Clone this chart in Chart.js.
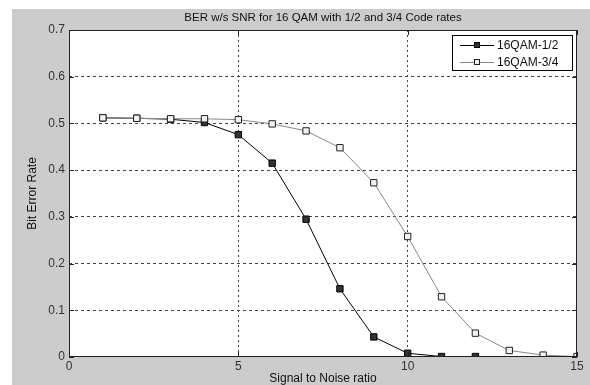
<!DOCTYPE html>
<html>
<head>
<meta charset="utf-8">
<script src="https://cdn.jsdelivr.net/npm/chart.js@4.4.1/dist/chart.umd.min.js"></script>
<style>
html,body{margin:0;padding:0;background:#fff;}
canvas{display:block;}
</style>
</head>
<body>
<canvas id="c" width="590" height="385"></canvas>
<script>
const snr = [1,2,3,4,5,6,7,8,9,10,11,12,13,14,15];
const ber12 = [0.512,0.511,0.509,0.502,0.476,0.415,0.295,0.146,0.043,0.008,0.001,0.001];
const ber34 = [0.512,0.511,0.510,0.510,0.508,0.499,0.484,0.448,0.373,0.258,0.129,0.051,0.014,0.004,0.001];
const seriesNames = ['16QAM-1/2','16QAM-3/4'];
const xTicks = [0,5,10,15];
const yTicks = [0,0.1,0.2,0.3,0.4,0.5,0.6,0.7];
const titleText = 'BER w/s SNR for 16 QAM with 1/2 and 3/4 Code rates';
const xTitle = 'Signal to Noise ratio';
const yTitle = 'Bit Error Rate';

const FONT = '"Liberation Sans", Arial, sans-serif';

function pts(xs, ys){ return ys.map((v,i)=>({x:xs[i], y:v})); }

const styles = [
  {line:'#000000', fill:'#333333', stroke:'#000000'},
  {line:'#888888', fill:'#f2f2f2', stroke:'#222222'}
];

const decor = {
  id:'decor',
  beforeDraw(chart){
    const ctx = chart.ctx;
    ctx.save();
    ctx.fillStyle = '#ffffff';
    ctx.fillRect(0,0,chart.width,chart.height);
    ctx.fillStyle = '#cccccc';
    ctx.fillRect(12,9,chart.width-12,chart.height-9);
    const a = chart.chartArea;
    ctx.fillStyle = '#ffffff';
    ctx.fillRect(a.left,a.top,a.right-a.left,a.bottom-a.top);
    ctx.restore();
  },
  afterDatasetsDraw(chart){
    const ctx = chart.ctx;
    const a = chart.chartArea;
    const xs = chart.scales.x, ys = chart.scales.y;
    ctx.save();
    ctx.strokeStyle = '#222222';
    ctx.lineWidth = 1;
    ctx.strokeRect(a.left+0.5,a.top+0.5,a.right-a.left-1,a.bottom-a.top-1);
    ctx.beginPath();
    yTicks.forEach(v=>{
      const y = Math.round(ys.getPixelForValue(v))+0.5;
      ctx.moveTo(a.left,y); ctx.lineTo(a.left+5,y);
      ctx.moveTo(a.right,y); ctx.lineTo(a.right-5,y);
    });
    xTicks.forEach(v=>{
      const x = Math.round(xs.getPixelForValue(v))+0.5;
      ctx.moveTo(x,a.bottom); ctx.lineTo(x,a.bottom-5);
      ctx.moveTo(x,a.top); ctx.lineTo(x,a.top+5);
    });
    ctx.stroke();
    ctx.fillStyle = '#111111';
    ctx.font = '11.5px ' + FONT;
    ctx.textAlign = 'center';
    ctx.textBaseline = 'middle';
    ctx.fillText(titleText,(a.left+a.right)/2,18);
    ctx.font = '12px ' + FONT;
    ctx.fillText(xTitle,(a.left+a.right)/2,379);
    ctx.save();
    ctx.translate(33,(a.top+a.bottom)/2);
    ctx.rotate(-Math.PI/2);
    ctx.fillText(yTitle,0,0);
    ctx.restore();
    const lx=452, ly=35, lw=121, lh=36;
    ctx.fillStyle='#ffffff';
    ctx.fillRect(lx,ly,lw,lh);
    ctx.strokeStyle='#000000';
    ctx.strokeRect(lx+0.5,ly+0.5,lw-1,lh-1);
    ctx.font = '12px ' + FONT;
    seriesNames.forEach((name,i)=>{
      const yy = ly+10+i*17;
      const s = styles[i];
      ctx.strokeStyle = s.line;
      ctx.beginPath();
      ctx.moveTo(460,yy+0.5); ctx.lineTo(494,yy+0.5);
      ctx.stroke();
      ctx.fillStyle = s.fill;
      ctx.strokeStyle = s.stroke;
      ctx.fillRect(474,yy-3,6,6);
      ctx.strokeRect(474.5,yy-2.5,5,5);
      ctx.fillStyle='#111111';
      ctx.textAlign='left';
      ctx.fillText(name,497,yy+0.5);
    });
    ctx.restore();
  }
};

const gridColor = (edgeMin, edgeMax) => (c) => {
  const v = c.tick ? c.tick.value : null;
  if (v === null) return 'rgba(0,0,0,0)';
  if (Math.abs(v-edgeMin)<1e-9 || Math.abs(v-edgeMax)<1e-9) return 'rgba(0,0,0,0)';
  return '#444444';
};

new Chart(document.getElementById('c'), {
  type:'line',
  data:{
    datasets:[
      {label:seriesNames[0], data:pts(snr,ber12), borderColor:styles[0].line, borderWidth:1,
       pointStyle:'rect', pointRadius:4.5, pointBackgroundColor:styles[0].fill, pointBorderColor:styles[0].stroke,
       pointBorderWidth:1, tension:0, fill:false, order:2},
      {label:seriesNames[1], data:pts(snr,ber34), borderColor:styles[1].line, borderWidth:1,
       pointStyle:'rect', pointRadius:4.5, pointBackgroundColor:styles[1].fill, pointBorderColor:styles[1].stroke,
       pointBorderWidth:1, tension:0, fill:false, order:1}
    ]
  },
  options:{
    responsive:false,
    animation:false,
    devicePixelRatio:1,
    layout:{padding:{top:30,right:13,left:0,bottom:0}},
    plugins:{legend:{display:false},title:{display:false},tooltip:{enabled:false}},
    scales:{
      x:{type:'linear', min:0, max:15,
        afterBuildTicks(s){ s.ticks = xTicks.map(v=>({value:v})); },
        afterFit(s){ s.height = 28; },
        grid:{color:gridColor(0,15), drawTicks:false},
        border:{display:false, dash:[2,3]},
        ticks:{color:'#333333', font:{family:FONT,size:12}, padding:2, maxRotation:0,
          callback:(v)=>String(v)}
      },
      y:{type:'linear', min:0, max:0.7,
        afterBuildTicks(s){ s.ticks = yTicks.map(v=>({value:v})); },
        afterFit(s){ s.width = 69; },
        grid:{color:gridColor(0,0.7), drawTicks:false},
        border:{display:false, dash:[3,3]},
        ticks:{color:'#333333', font:{family:FONT,size:12}, padding:4,
          callback:(v)=>String(Math.round(v*10)/10)}
      }
    }
  },
  plugins:[decor]
});
</script>
</body>
</html>
